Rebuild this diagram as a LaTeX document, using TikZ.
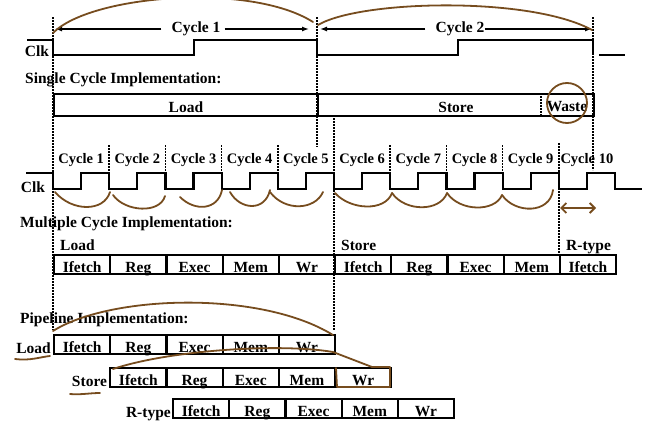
\documentclass[tikz,border=0pt]{standalone}
\usepackage{fontspec}
\setmainfont{Liberation Serif}
\usetikzlibrary{arrows.meta,positioning}
\definecolor{ink}{RGB}{118,76,30}

\begin{document}
\begin{tikzpicture}[
  x=1pt, y=-1pt,
  font=\bfseries\fontsize{15.5}{17}\selectfont,
  >={Latex[length=7pt,width=5pt]},
  stage/.style={draw, line width=2.1pt, minimum width=56.2pt, minimum height=19pt, text height=15pt, text depth=0pt, inner sep=0pt, anchor=north west},
  bar/.style={draw, line width=1.8pt, minimum height=22pt, text height=15pt, text depth=0pt, inner sep=0pt, anchor=north west},
  wave/.style={line width=2.2pt},
  tick/.style={line width=1.6pt, dash pattern=on 1.6pt off 1.4pt},
  arr/.style={->, line width=1.3pt},
  note/.style={inner sep=0pt},
  cyc/.style={inner sep=0pt, font=\bfseries\fontsize{14.5}{16}\selectfont},
  hand/.style={draw=ink, line width=1.8pt, line cap=round, line join=round}
]
\useasboundingbox (0,0) rectangle (649,423);

% single cycle
\node[note] (clkA) at (37,51) {Clk};
\draw[wave] (27,40) -- (53,40) -- (53,55) -- (194,55) -- (194,40) -- (317,40) -- (317,55) -- (458,55) -- (458,40) -- (593,40) -- (593,53);
\draw[wave] (599,55) -- (625,55);

\node[note] (cycA) at (196,29) {Cycle 1};
\node[note] (cycB) at (460,29) {Cycle 2};
\coordinate (a0) at (55,29);
\coordinate (a1) at (309,29);
\coordinate (a2) at (320,29);
\coordinate (a3) at (592,29);
\draw[arr] ([xshift=-10pt]cycA.west) -- (a0);
\draw[arr] ([xshift=4pt]cycA.east) -- (a1);
\draw[arr] ([xshift=-10pt]cycB.west) -- (a2);
\draw[arr] (cycB.east) -- (a3);

\node[note, anchor=west] (single) at (25,80) {Single Cycle Implementation:};
\node[bar, minimum width=264pt] (sload) at (53,93) {Load};
\node[bar, minimum width=276pt] (sstore) at (317,93) {Store};
\node[note, anchor=base] (waste) at (567,111.5) {Waste};
\draw[tick] (541,93) -- (541,115);

% multiple cycle
\node[note] (clkB) at (33,187) {Clk};
\draw[wave] (26,173) -- (53,173) foreach \i in {0,...,9} { -- ++(0,16) -- ++(28.1,0) -- ++(0,-16) -- ++(28.1,0) } -- ++(0,16) -- (642,189);

\foreach \i in {1,...,10}
  \node[cyc] (mcyc\i) at ({53+56.2*(\i-0.5)},160) {Cycle \i};

\node[note, anchor=west] (multi) at (20,224) {Multiple Cycle Implementation:};
\node[note, anchor=base west] (mload) at (60,250) {Load};
\node[note, anchor=base west] (mstore) at (341,250) {Store};
\node[note, anchor=base west] (mrtype) at (566,250) {R-type};

\foreach \t [count=\i from 0] in {Ifetch,Reg,Exec,Mem,Wr,Ifetch,Reg,Exec,Mem,Ifetch}
  \node[stage] (mc\i) at ({53+56.2*\i},254) {\t};

% pipeline
\node[note, anchor=west] (pipe) at (20,320) {Pipeline Implementation:};
\foreach \t [count=\i from 0] in {Ifetch,Reg,Exec,Mem,Wr} {
  \node[stage] (ld\i) at ({53+56.2*\i},334) {\t};
  \node[stage] (st\i) at ({109.2+56.2*\i},367) {\t};
  \node[stage] (rt\i) at ({172+56.2*\i},398) {\t};
}
\node[note, anchor=base east] (pload) at ([xshift=-2pt,yshift=1.5pt]ld0.south west) {Load};
\node[note, anchor=base east] (pstore) at ([xshift=-2pt,yshift=1.5pt]st0.south west) {Store};
\node[note, anchor=base east] (prtype) at ([xshift=-1pt,yshift=1.5pt]rt0.south west) {R-type};

% dotted markers
\draw[tick] (53,17) -- (53,330);
\draw[tick] (317,17) -- (317,147);
\draw[tick] (593,17) -- (593,170);
\draw[tick] (334,115) -- (334,330);
\draw[tick] (558.8,143) -- (558.8,253);
\foreach \i in {1,2,3,4,6,7,8}
  \draw[tick] ({53+56.2*\i},145) -- ({53+56.2*\i},173);

% hand marks
\draw[hand] (53,33) .. controls (90,-5) and (250,-18) .. (313,22);
\draw[hand] (318,25) .. controls (360,0) and (530,-4) .. (592,30);
\draw[hand] (567,103) ellipse (20 and 20);
\draw[hand] (55,192) .. controls (72,212) and (104,212) .. (110,192);
\draw[hand] (113,195) .. controls (125,212) and (160,214) .. (165,196);
\draw[hand] (180,197) .. controls (195,212) and (218,210) .. (222,190);
\draw[hand] (230,192) .. controls (240,210) and (265,212) .. (270,190);
\draw[hand] (270,192) .. controls (285,212) and (315,210) .. (323,192);
\draw[hand] (335,193) .. controls (350,210) and (385,212) .. (392,193);
\draw[hand] (392,193) .. controls (405,212) and (440,212) .. (447,193);
\draw[hand] (447,193) .. controls (460,212) and (495,212) .. (502,195);
\draw[hand] (502,195) .. controls (515,214) and (550,214) .. (553,190);
\draw[hand, {Straight Barb[length=5pt]}-{Straight Barb[length=5pt]}] (560,208) -- (596,208);
\draw[hand] (53,331) .. controls (110,295) and (260,290) .. (333,335);
\draw[hand] (113,369) .. controls (170,350) and (280,343) .. (333,352) -- (372,367) -- (390,367) -- (390,387) -- (337,387) -- (336,368);
\draw[hand] (15,359) .. controls (30,361) and (40,357) .. (50,356);
\draw[hand] (70,394) .. controls (80,395) and (90,393) .. (100,393);

\end{tikzpicture}
\end{document}
